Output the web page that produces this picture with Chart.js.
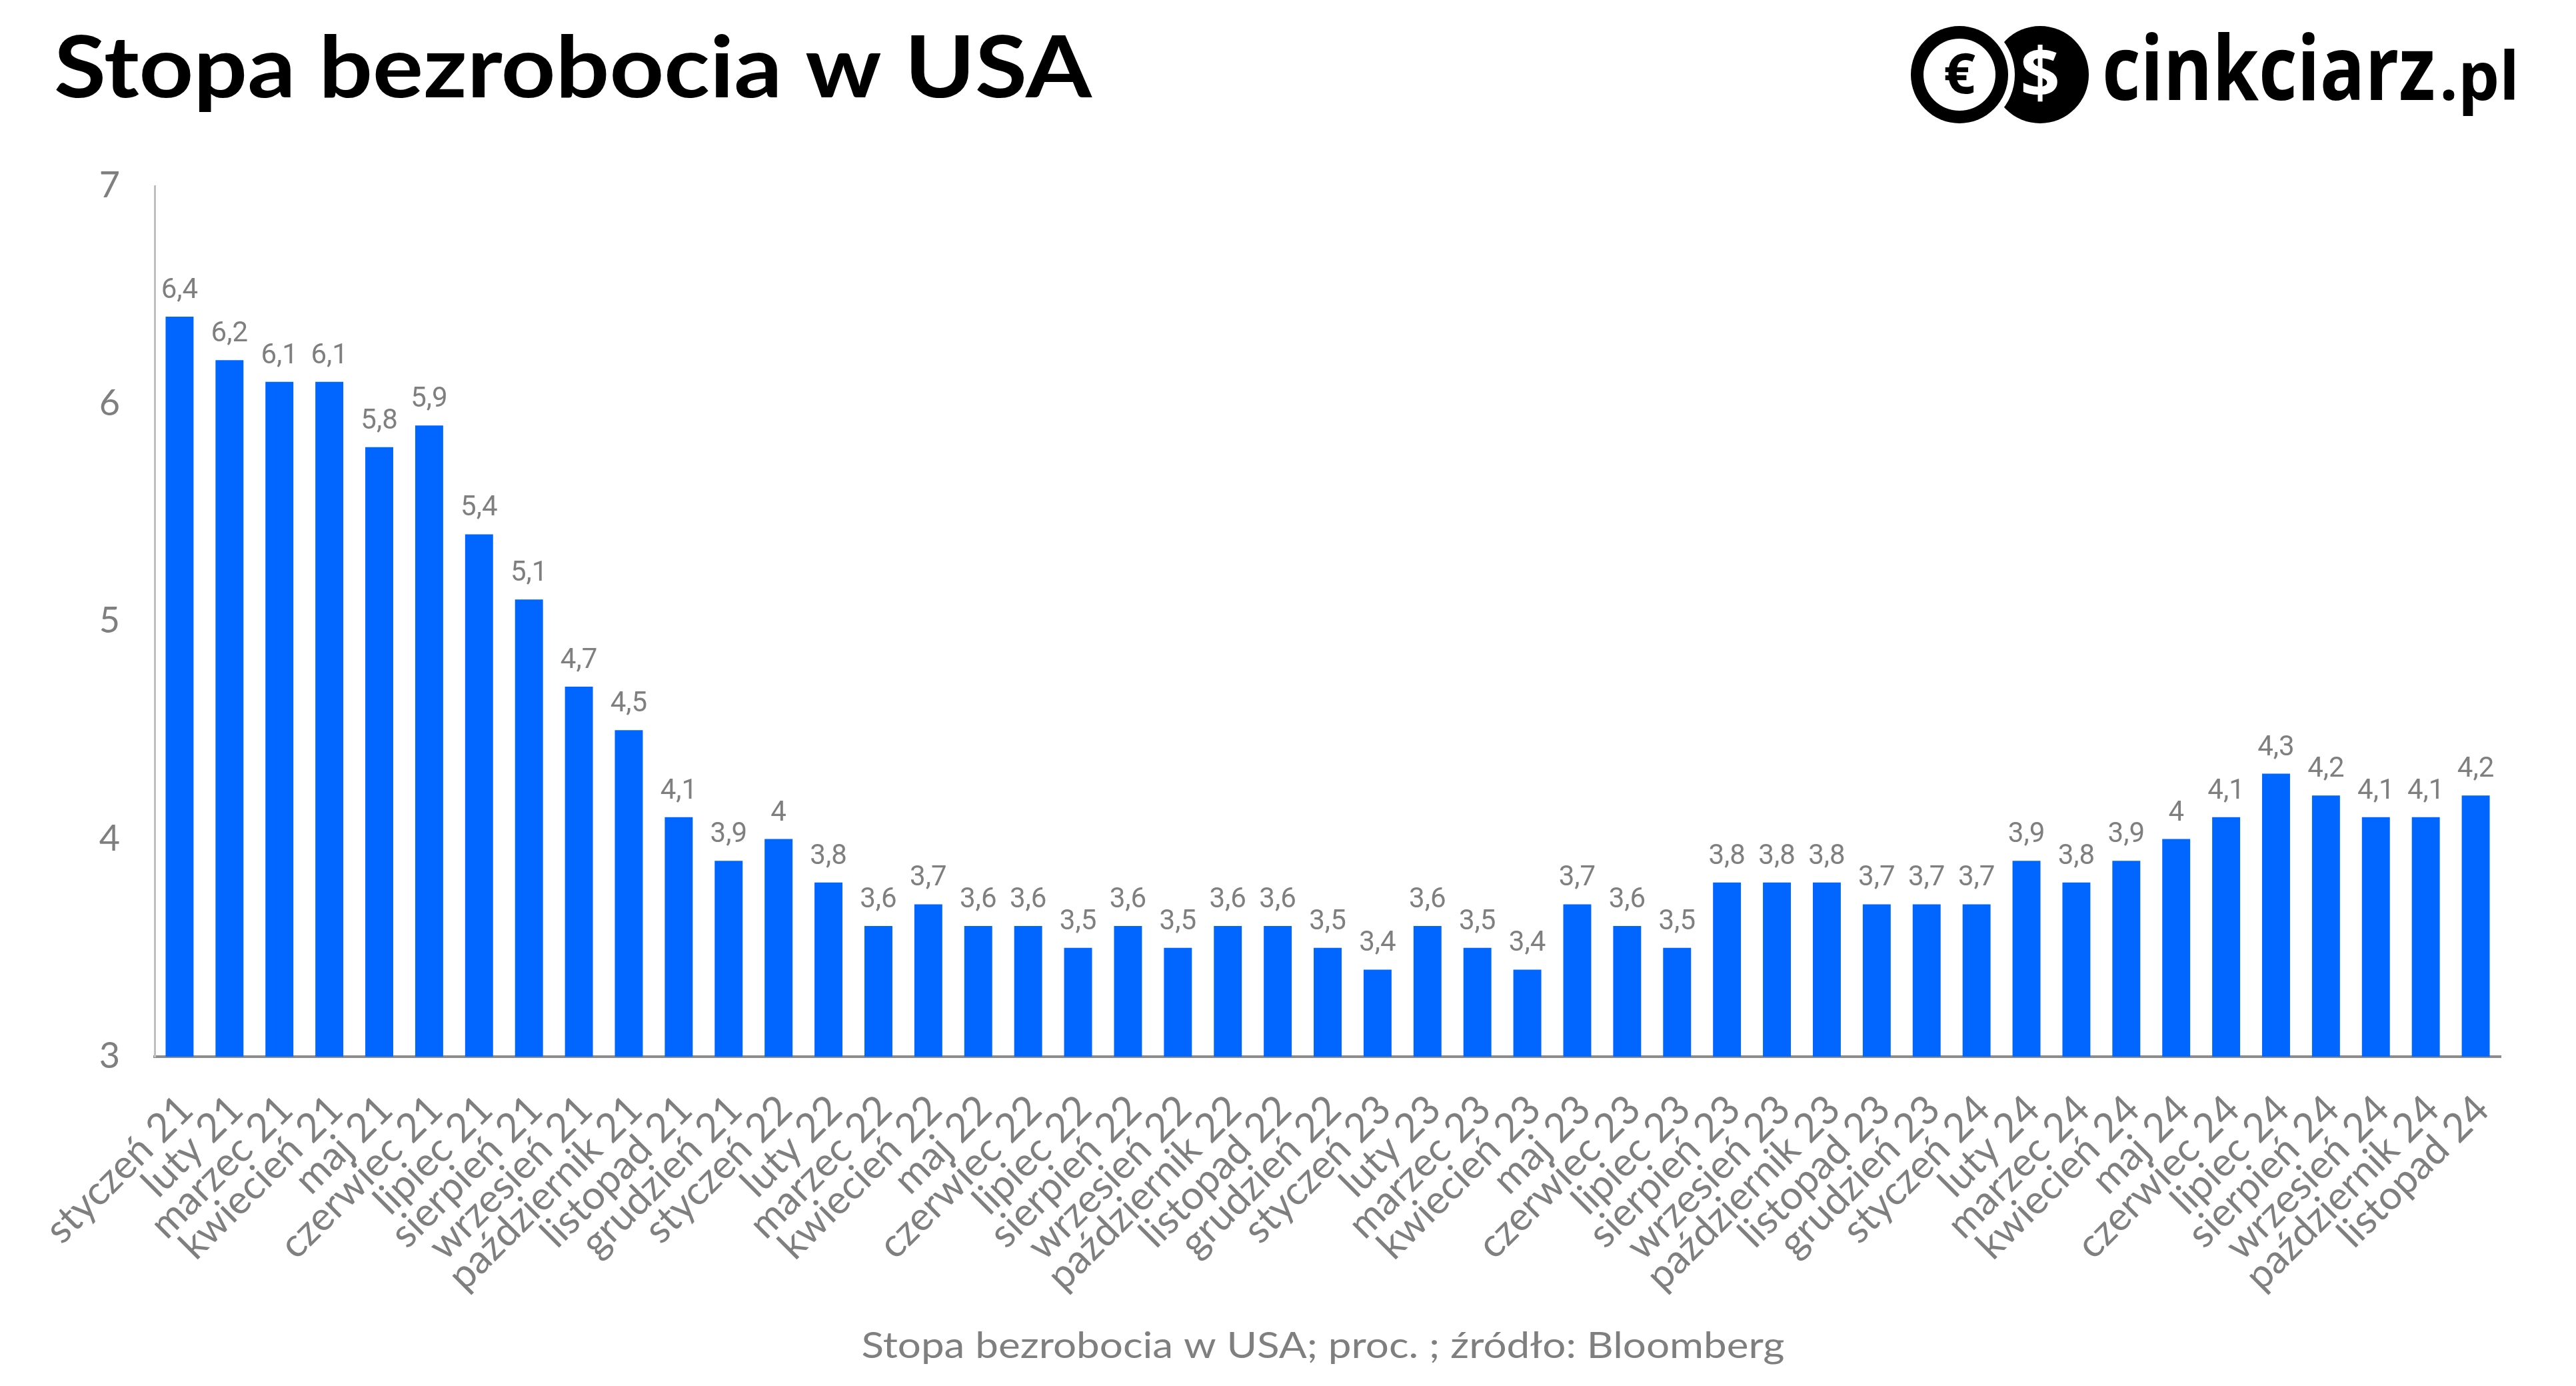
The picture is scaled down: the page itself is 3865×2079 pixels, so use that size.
<!DOCTYPE html>
<html>
<head>
<meta charset="utf-8">
<script src="https://cdn.jsdelivr.net/npm/chart.js@4/dist/chart.umd.min.js"></script>
<style>
  html, body { margin: 0; padding: 0; background: #fff; }
  canvas { display: block; }
</style>
</head>
<body>
<canvas id="myChart" width="3865" height="2079"></canvas>
<script>
// months, Jan 2021 - Nov 2024
var months = ['styczeń','luty','marzec','kwiecień','maj','czerwiec','lipiec','sierpień','wrzesień','październik','listopad','grudzień'];
var years = ['21','22','23','24'];
var labels = [];
years.forEach(function(y){
  months.forEach(function(m){ labels.push(m + ' ' + y); });
});
labels = labels.slice(0, 47); // data stops at listopad 24

var rate = [6.4,6.2,6.1,6.1,5.8,5.9,5.4,5.1,4.7,4.5,4.1,3.9,
            4,3.8,3.6,3.7,3.6,3.6,3.5,3.6,3.5,3.6,3.6,3.5,
            3.4,3.6,3.5,3.4,3.7,3.6,3.5,3.8,3.8,3.8,3.7,3.7,
            3.7,3.9,3.8,3.9,4,4.1,4.3,4.2,4.1,4.1,4.2];

var yMin = 3, yMax = 7, yStep = 1;

var titleText = 'Stopa bezrobocia w USA';
var footerText = 'Stopa bezrobocia w USA; proc. ; źródło: Bloomberg';

var gray = '#7f7f7f';
var blue = '#0066ff';

function fmt(v){ return String(v).replace('.', ','); }

// value labels above bars
var barLabels = {
  id: 'barLabels',
  afterDatasetsDraw: function(chart){
    var ctx = chart.ctx;
    var meta = chart.getDatasetMeta(0);
    ctx.save();
    ctx.fillStyle = gray;
    ctx.font = '42px Roboto';
    ctx.textAlign = 'center';
    ctx.textBaseline = 'alphabetic';
    meta.data.forEach(function(bar, i){
      ctx.fillText(fmt(chart.data.datasets[0].data[i]), bar.x, bar.y - 28);
    });
    ctx.restore();
  }
};

// title, logo and footer
function fitText(ctx, text, x, y, width){
  var w = ctx.measureText(text).width;
  ctx.save();
  ctx.translate(x, y);
  ctx.scale(width / w, 1);
  ctx.fillText(text, 0, 0);
  ctx.restore();
}

var decorations = {
  id: 'decorations',
  afterDraw: function(chart){
    var ctx = chart.ctx;
    ctx.save();
    ctx.textBaseline = 'alphabetic';
    ctx.textAlign = 'left';

    // title
    ctx.fillStyle = '#000';
    ctx.font = 'bold 128px Lato';
    fitText(ctx, titleText, 81, 146, 1557);

    // logo: dollar coin behind euro coin
    var ex = 2940, dx = 3061, cy = 112, r = 73;
    ctx.fillStyle = '#000';
    ctx.beginPath(); ctx.arc(dx, cy, r, 0, Math.PI * 2); ctx.fill();
    ctx.fillStyle = '#fff';
    ctx.beginPath(); ctx.arc(ex, cy, r + 10, 0, Math.PI * 2); ctx.fill();
    ctx.fillStyle = '#000';
    ctx.beginPath(); ctx.arc(ex, cy, r, 0, Math.PI * 2); ctx.fill();
    ctx.fillStyle = '#fff';
    ctx.beginPath(); ctx.arc(ex, cy, r - 19, 0, Math.PI * 2); ctx.fill();
    ctx.textAlign = 'center';
    ctx.textBaseline = 'middle';
    ctx.fillStyle = '#000';
    ctx.font = 'bold 84px "Open Sans"';
    ctx.fillText('€', ex, cy + 4);
    ctx.fillStyle = '#fff';
    ctx.font = 'bold 104px "Open Sans"';
    ctx.fillText('$', dx, cy + 4);

    ctx.textAlign = 'left';
    ctx.textBaseline = 'alphabetic';
    ctx.fillStyle = '#000';
    ctx.font = 'bold 134px "Open Sans"';
    fitText(ctx, 'cinkciarz', 3154, 150, 500);
    ctx.font = 'bold 100px "Open Sans"';
    fitText(ctx, '.pl', 3660, 150, 120);

    // footer
    ctx.fillStyle = gray;
    ctx.font = '54px Lato';
    var fw = 1385;
    fitText(ctx, footerText, 1985 - fw / 2, 2037, fw);
    ctx.restore();
  }
};

var ctx = document.getElementById('myChart').getContext('2d');
var chart = new Chart(ctx, {
  type: 'bar',
  data: {
    labels: labels,
    datasets: [{
      data: rate,
      backgroundColor: blue,
      borderWidth: 0,
      barPercentage: 0.56,
      categoryPercentage: 1
    }]
  },
  options: {
    responsive: false,
    animation: false,
    devicePixelRatio: 1,
    layout: { padding: { top: 279, left: 0, right: 113, bottom: 0 } },
    plugins: {
      legend: { display: false },
      tooltip: { enabled: false }
    },
    scales: {
      x: {
        grid: { display: false, drawTicks: false },
        border: { display: true, color: '#8c8c8c', width: 4 },
        ticks: {
          color: gray,
          font: { family: 'Lato', size: 60 },
          minRotation: 45,
          maxRotation: 45,
          autoSkip: false,
          padding: 44,
          labelOffset: 10
        },
        afterFit: function(scale){ scale.height = 494; }
      },
      y: {
        min: yMin,
        max: yMax,
        grid: { display: false, drawTicks: false },
        border: { display: true, color: '#bfbfbf', width: 3 },
        ticks: {
          stepSize: yStep,
          color: gray,
          font: { family: 'Lato', size: 54 },
          padding: 52
        },
        afterFit: function(scale){ scale.width = 232; }
      }
    }
  },
  plugins: [barLabels, decorations]
});
</script>
</body>
</html>
